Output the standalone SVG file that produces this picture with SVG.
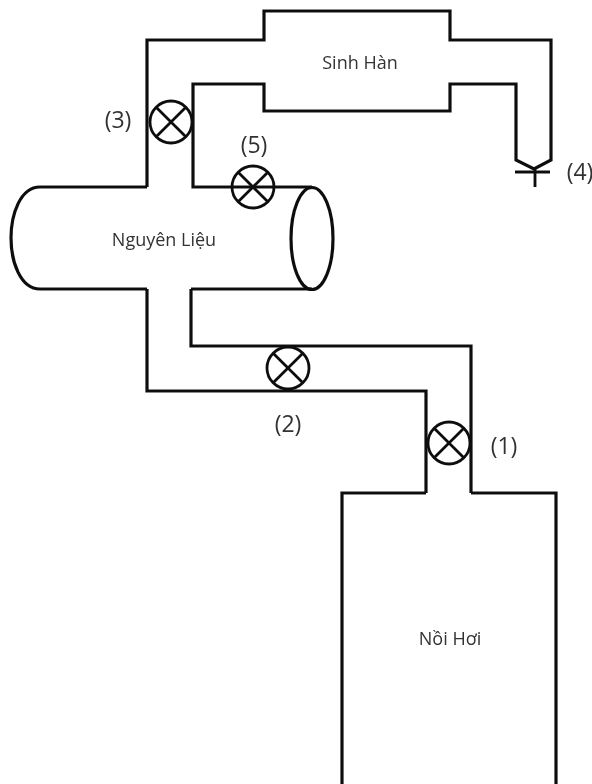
<svg xmlns="http://www.w3.org/2000/svg" width="592" height="784" viewBox="0 0 592 784">
<style>
.l{fill:none;stroke:#111;stroke-width:3.2;stroke-linejoin:miter}
.v{fill:none;stroke:#111;stroke-width:2.8}
.t{font-family:"Open Sans","Liberation Sans",sans-serif;fill:#333;font-size:18px;text-anchor:middle}
.n{font-family:"Open Sans","Liberation Sans",sans-serif;fill:#333;font-size:23px;text-anchor:middle}
</style>
<defs>
<filter id="soft" filterUnits="userSpaceOnUse" x="0" y="0" width="592" height="784"><feGaussianBlur stdDeviation="0.5"/></filter>
<g id="valve"><circle r="21" class="v"/><path d="M-14.800-14.800L14.800 14.800M-14.800 14.800L14.800-14.800" class="v"/></g>
</defs>
<rect width="592" height="784" fill="#fff"/>
<g filter="url(#soft)">
<g id="connectors">
<path class="l" d="M147 187V40H264V11H450V40H551V160L534 169L516 160V84H450V111H264V84H193V187H312"/>
<path class="l" d="M147 289V391H426V493"/>
<path class="l" d="M191 289V346H471V493"/>
</g>
<g id="tank">
<path class="l" d="M147 187H40C20 187 11 215 11 238S20 289 40 289H147M191 289H312"/>
<ellipse cx="312" cy="238.500" rx="21" ry="51" class="l"/>
<text class="t" x="164" y="246">Nguyên Liệu</text>
</g>
<g id="condenser"><text class="t" x="360" y="69">Sinh Hàn</text></g>
<g id="boiler">
<path class="l" d="M342 784V493H426M471 493H556V784"/>
<text class="t" x="450" y="645">Nồi Hơi</text>
</g>
<g id="outlet">
<path class="v" d="M515 172H550M535 168V187"/>
<text class="n" x="580" y="180">(4)</text>
</g>
<g id="valve1"><use href="#valve" x="449" y="443"/><text class="n" x="504" y="454">(1)</text></g>
<g id="valve2"><use href="#valve" x="288" y="368"/><text class="n" x="288" y="432">(2)</text></g>
<g id="valve3"><use href="#valve" x="171" y="122"/><text class="n" x="118" y="128">(3)</text></g>
<g id="valve5"><use href="#valve" x="253" y="187"/><text class="n" x="254" y="153">(5)</text></g>
</g>
</svg>
